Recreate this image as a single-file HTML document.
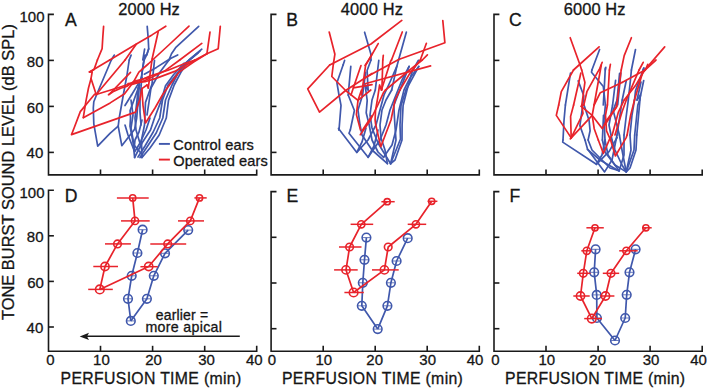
<!DOCTYPE html>
<html><head><meta charset="utf-8"><style>
html,body{margin:0;padding:0;background:#fff;}
svg{display:block;}
text{font-family:'Liberation Sans',sans-serif;fill:#151515;stroke:#151515;stroke-width:0.3px;}
</style></head><body>
<svg width="708" height="390" viewBox="0 0 708 390">
<rect width="708" height="390" fill="#fff"/>
<path d="M53.9,14.4H48.5V174.9H256.7V169.5" fill="none" stroke="#1a1a1a" stroke-width="1.6" stroke-linejoin="miter"/>
<path d="M48.5,60.4h5.4" stroke="#1a1a1a" stroke-width="1.6"/>
<path d="M48.5,106.4h5.4" stroke="#1a1a1a" stroke-width="1.6"/>
<path d="M48.5,152.4h5.4" stroke="#1a1a1a" stroke-width="1.6"/>
<path d="M100.5,174.9v-5.4" stroke="#1a1a1a" stroke-width="1.6"/>
<path d="M152.6,174.9v-5.4" stroke="#1a1a1a" stroke-width="1.6"/>
<path d="M204.7,174.9v-5.4" stroke="#1a1a1a" stroke-width="1.6"/>
<path d="M276.5,14.4H271.1V174.9H479.3V169.5" fill="none" stroke="#1a1a1a" stroke-width="1.6" stroke-linejoin="miter"/>
<path d="M271.1,60.4h5.4" stroke="#1a1a1a" stroke-width="1.6"/>
<path d="M271.1,106.4h5.4" stroke="#1a1a1a" stroke-width="1.6"/>
<path d="M271.1,152.4h5.4" stroke="#1a1a1a" stroke-width="1.6"/>
<path d="M323.2,174.9v-5.4" stroke="#1a1a1a" stroke-width="1.6"/>
<path d="M375.2,174.9v-5.4" stroke="#1a1a1a" stroke-width="1.6"/>
<path d="M427.2,174.9v-5.4" stroke="#1a1a1a" stroke-width="1.6"/>
<path d="M499.4,14.4H494.0V174.9H702.2V169.5" fill="none" stroke="#1a1a1a" stroke-width="1.6" stroke-linejoin="miter"/>
<path d="M494.0,60.4h5.4" stroke="#1a1a1a" stroke-width="1.6"/>
<path d="M494.0,106.4h5.4" stroke="#1a1a1a" stroke-width="1.6"/>
<path d="M494.0,152.4h5.4" stroke="#1a1a1a" stroke-width="1.6"/>
<path d="M546.0,174.9v-5.4" stroke="#1a1a1a" stroke-width="1.6"/>
<path d="M598.1,174.9v-5.4" stroke="#1a1a1a" stroke-width="1.6"/>
<path d="M650.1,174.9v-5.4" stroke="#1a1a1a" stroke-width="1.6"/>
<path d="M53.9,190.2H48.5V351.2H256.7V345.8" fill="none" stroke="#1a1a1a" stroke-width="1.6" stroke-linejoin="miter"/>
<path d="M48.5,235.8h5.4" stroke="#1a1a1a" stroke-width="1.6"/>
<path d="M48.5,281.4h5.4" stroke="#1a1a1a" stroke-width="1.6"/>
<path d="M48.5,327.0h5.4" stroke="#1a1a1a" stroke-width="1.6"/>
<path d="M100.5,351.2v-5.4" stroke="#1a1a1a" stroke-width="1.6"/>
<path d="M152.6,351.2v-5.4" stroke="#1a1a1a" stroke-width="1.6"/>
<path d="M204.7,351.2v-5.4" stroke="#1a1a1a" stroke-width="1.6"/>
<path d="M276.5,191.6H271.1V351.2H479.3V345.8" fill="none" stroke="#1a1a1a" stroke-width="1.6" stroke-linejoin="miter"/>
<path d="M271.1,237.3h5.4" stroke="#1a1a1a" stroke-width="1.6"/>
<path d="M271.1,283.0h5.4" stroke="#1a1a1a" stroke-width="1.6"/>
<path d="M271.1,328.7h5.4" stroke="#1a1a1a" stroke-width="1.6"/>
<path d="M323.2,351.2v-5.4" stroke="#1a1a1a" stroke-width="1.6"/>
<path d="M375.2,351.2v-5.4" stroke="#1a1a1a" stroke-width="1.6"/>
<path d="M427.2,351.2v-5.4" stroke="#1a1a1a" stroke-width="1.6"/>
<path d="M499.4,191.6H494.0V351.2H702.2V345.8" fill="none" stroke="#1a1a1a" stroke-width="1.6" stroke-linejoin="miter"/>
<path d="M494.0,237.3h5.4" stroke="#1a1a1a" stroke-width="1.6"/>
<path d="M494.0,283.0h5.4" stroke="#1a1a1a" stroke-width="1.6"/>
<path d="M494.0,328.7h5.4" stroke="#1a1a1a" stroke-width="1.6"/>
<path d="M546.0,351.2v-5.4" stroke="#1a1a1a" stroke-width="1.6"/>
<path d="M598.1,351.2v-5.4" stroke="#1a1a1a" stroke-width="1.6"/>
<path d="M650.1,351.2v-5.4" stroke="#1a1a1a" stroke-width="1.6"/>
<text x="19.48" y="21.9" font-size="15.0">100</text>
<text x="26.86" y="66.9" font-size="15.0">80</text>
<text x="26.86" y="112.7" font-size="15.0">60</text>
<text x="26.62" y="158.2" font-size="15.0">40</text>
<text x="19.48" y="197.7" font-size="15.0">100</text>
<text x="26.86" y="241.6" font-size="15.0">80</text>
<text x="27.18" y="287.6" font-size="15.0">60</text>
<text x="26.62" y="332.9" font-size="15.0">40</text>
<text x="46.30" y="365.4" font-size="15.0">0</text>
<text x="93.10" y="365.4" font-size="15.0">10</text>
<text x="145.18" y="365.4" font-size="15.0">20</text>
<text x="198.24" y="365.4" font-size="15.0">30</text>
<text x="246.00" y="365.4" font-size="15.0">40</text>
<text x="267.86" y="365.4" font-size="15.0">0</text>
<text x="315.42" y="365.4" font-size="15.0">10</text>
<text x="366.30" y="365.4" font-size="15.0">20</text>
<text x="419.36" y="365.4" font-size="15.0">30</text>
<text x="466.74" y="365.4" font-size="15.0">40</text>
<text x="491.24" y="365.4" font-size="15.0">0</text>
<text x="538.48" y="365.4" font-size="15.0">10</text>
<text x="589.36" y="365.4" font-size="15.0">20</text>
<text x="642.74" y="365.4" font-size="15.0">30</text>
<text x="690.18" y="365.4" font-size="15.0">40</text>
<text x="60.54" y="384.0" font-size="15.8" textLength="180.69" lengthAdjust="spacing">PERFUSION TIME (min)</text>
<text x="281.98" y="384.0" font-size="15.8" textLength="180.90" lengthAdjust="spacing">PERFUSION TIME (min)</text>
<text x="505.04" y="384.0" font-size="15.8" textLength="180.06" lengthAdjust="spacing">PERFUSION TIME (min)</text>
<text x="118.24" y="14.7" font-size="16.4" textLength="61.53" lengthAdjust="spacing">2000 Hz</text>
<text x="340.74" y="14.7" font-size="16.4" textLength="62.23" lengthAdjust="spacing">4000 Hz</text>
<text x="563.80" y="14.7" font-size="16.4" textLength="61.53" lengthAdjust="spacing">6000 Hz</text>
<text x="65.12" y="25.6" font-size="17.6">A</text>
<text x="286.16" y="25.8" font-size="17.6">B</text>
<text x="508.92" y="25.9" font-size="17.6">C</text>
<text x="64.66" y="201.5" font-size="17.6">D</text>
<text x="286.60" y="201.5" font-size="17.6">E</text>
<text x="509.54" y="201.8" font-size="17.6">F</text>
<text x="173.30" y="150.0" font-size="14.6" textLength="80.59" lengthAdjust="spacing">Control ears</text>
<text x="173.30" y="165.8" font-size="14.6" textLength="94.38" lengthAdjust="spacing">Operated ears</text>
<text x="155.80" y="320.0" font-size="14.0" textLength="52.32" lengthAdjust="spacing">earlier =</text>
<text x="145.48" y="331.7" font-size="14.2" textLength="76.42" lengthAdjust="spacing">more apical</text>
<text transform="translate(13.9,320.1) rotate(-90)" font-size="16.4" textLength="296" lengthAdjust="spacing">TONE BURST SOUND LEVEL (dB SPL)</text>
<path d="M158.9,143.9H169.9" stroke="#4058ac" stroke-width="1.9"/>
<path d="M158.9,159.6H169.9" stroke="#e8232b" stroke-width="1.9"/>
<path d="M239.8,336.3H86" stroke="#1a1a1a" stroke-width="1.6"/>
<path d="M79.7,336.4L89,332.8L87,336.4L89,340Z" fill="#1a1a1a"/>
<path d="M142.6,229.7L137.4,253.0L131.7,275.8L128.0,298.8L130.8,320.9" fill="none" stroke="#4058ac" stroke-width="1.7" stroke-linejoin="round"/>
<path d="M188.2,230.1L165.0,253.3L153.8,275.8L146.9,298.8L130.8,320.9" fill="none" stroke="#4058ac" stroke-width="1.7" stroke-linejoin="round"/>
<circle cx="142.6" cy="229.7" r="4.3" fill="none" stroke="#4058ac" stroke-width="1.6"/>
<path d="M138.8,229.7H146.4" stroke="#4058ac" stroke-width="1" opacity="0.8"/>
<circle cx="137.4" cy="253.0" r="4.3" fill="none" stroke="#4058ac" stroke-width="1.6"/>
<path d="M133.6,253.0H141.2" stroke="#4058ac" stroke-width="1" opacity="0.8"/>
<circle cx="131.7" cy="275.8" r="4.3" fill="none" stroke="#4058ac" stroke-width="1.6"/>
<path d="M127.9,275.8H135.5" stroke="#4058ac" stroke-width="1" opacity="0.8"/>
<circle cx="128.0" cy="298.8" r="4.3" fill="none" stroke="#4058ac" stroke-width="1.6"/>
<path d="M124.2,298.8H131.8" stroke="#4058ac" stroke-width="1" opacity="0.8"/>
<circle cx="130.8" cy="320.9" r="4.3" fill="none" stroke="#4058ac" stroke-width="1.6"/>
<path d="M127.0,320.9H134.6" stroke="#4058ac" stroke-width="1" opacity="0.8"/>
<circle cx="188.2" cy="230.1" r="4.3" fill="none" stroke="#4058ac" stroke-width="1.6"/>
<path d="M184.4,230.1H192.0" stroke="#4058ac" stroke-width="1" opacity="0.8"/>
<circle cx="165.0" cy="253.3" r="4.3" fill="none" stroke="#4058ac" stroke-width="1.6"/>
<path d="M161.2,253.3H168.8" stroke="#4058ac" stroke-width="1" opacity="0.8"/>
<circle cx="153.8" cy="275.8" r="4.3" fill="none" stroke="#4058ac" stroke-width="1.6"/>
<path d="M150.0,275.8H157.6" stroke="#4058ac" stroke-width="1" opacity="0.8"/>
<circle cx="146.9" cy="298.8" r="4.3" fill="none" stroke="#4058ac" stroke-width="1.6"/>
<path d="M143.1,298.8H150.7" stroke="#4058ac" stroke-width="1" opacity="0.8"/>
<path d="M132.7,197.9L135.0,220.9L117.5,243.9L105.0,266.5L99.8,289.4" fill="none" stroke="#e8232b" stroke-width="1.7" stroke-linejoin="round"/>
<path d="M199.5,197.9L190.3,220.9L167.7,243.9L148.7,266.5L99.8,289.4" fill="none" stroke="#e8232b" stroke-width="1.7" stroke-linejoin="round"/>
<path d="M116.9,197.9H148.7" stroke="#e8232b" stroke-width="1.5"/>
<path d="M121.0,220.9H149.7" stroke="#e8232b" stroke-width="1.5"/>
<path d="M105.0,243.9H130.9" stroke="#e8232b" stroke-width="1.5"/>
<path d="M93.3,266.5H118.0" stroke="#e8232b" stroke-width="1.5"/>
<path d="M88.2,289.4H112.8" stroke="#e8232b" stroke-width="1.5"/>
<path d="M194.4,197.9H206.7" stroke="#e8232b" stroke-width="1.5"/>
<path d="M178.0,220.9H204.0" stroke="#e8232b" stroke-width="1.5"/>
<path d="M150.3,243.9H186.2" stroke="#e8232b" stroke-width="1.5"/>
<path d="M140.4,266.7H157.8" stroke="#e8232b" stroke-width="1.5"/>
<circle cx="132.7" cy="197.9" r="3.1" fill="none" stroke="#e8232b" stroke-width="1.6"/>
<circle cx="135.0" cy="220.9" r="3.6" fill="none" stroke="#e8232b" stroke-width="1.6"/>
<circle cx="117.5" cy="243.9" r="3.8" fill="none" stroke="#e8232b" stroke-width="1.6"/>
<circle cx="105.0" cy="266.5" r="4.1" fill="none" stroke="#e8232b" stroke-width="1.6"/>
<circle cx="99.8" cy="289.4" r="4.3" fill="none" stroke="#e8232b" stroke-width="1.6"/>
<circle cx="199.5" cy="197.9" r="3.1" fill="none" stroke="#e8232b" stroke-width="1.6"/>
<circle cx="190.3" cy="220.9" r="3.6" fill="none" stroke="#e8232b" stroke-width="1.6"/>
<circle cx="167.7" cy="243.9" r="3.8" fill="none" stroke="#e8232b" stroke-width="1.6"/>
<circle cx="148.7" cy="266.5" r="4.1" fill="none" stroke="#e8232b" stroke-width="1.6"/>
<path d="M366.4,237.6L364.5,259.8L362.8,282.8L361.8,305.8L377.7,329.1" fill="none" stroke="#4058ac" stroke-width="1.7" stroke-linejoin="round"/>
<path d="M407.7,238.2L396.6,261.0L390.9,282.8L387.4,305.8L377.7,329.1" fill="none" stroke="#4058ac" stroke-width="1.7" stroke-linejoin="round"/>
<circle cx="366.4" cy="237.6" r="4.3" fill="none" stroke="#4058ac" stroke-width="1.6"/>
<path d="M362.6,237.6H370.2" stroke="#4058ac" stroke-width="1" opacity="0.8"/>
<circle cx="364.5" cy="259.8" r="4.3" fill="none" stroke="#4058ac" stroke-width="1.6"/>
<path d="M360.7,259.8H368.3" stroke="#4058ac" stroke-width="1" opacity="0.8"/>
<circle cx="362.8" cy="282.8" r="4.3" fill="none" stroke="#4058ac" stroke-width="1.6"/>
<path d="M359.0,282.8H366.6" stroke="#4058ac" stroke-width="1" opacity="0.8"/>
<circle cx="361.8" cy="305.8" r="4.3" fill="none" stroke="#4058ac" stroke-width="1.6"/>
<path d="M358.0,305.8H365.6" stroke="#4058ac" stroke-width="1" opacity="0.8"/>
<circle cx="377.7" cy="329.1" r="4.3" fill="none" stroke="#4058ac" stroke-width="1.6"/>
<path d="M373.9,329.1H381.5" stroke="#4058ac" stroke-width="1" opacity="0.8"/>
<circle cx="407.7" cy="238.2" r="4.3" fill="none" stroke="#4058ac" stroke-width="1.6"/>
<path d="M403.9,238.2H411.5" stroke="#4058ac" stroke-width="1" opacity="0.8"/>
<circle cx="396.6" cy="261.0" r="4.3" fill="none" stroke="#4058ac" stroke-width="1.6"/>
<path d="M392.8,261.0H400.4" stroke="#4058ac" stroke-width="1" opacity="0.8"/>
<circle cx="390.9" cy="282.8" r="4.3" fill="none" stroke="#4058ac" stroke-width="1.6"/>
<path d="M387.1,282.8H394.7" stroke="#4058ac" stroke-width="1" opacity="0.8"/>
<circle cx="387.4" cy="305.8" r="4.3" fill="none" stroke="#4058ac" stroke-width="1.6"/>
<path d="M383.6,305.8H391.2" stroke="#4058ac" stroke-width="1" opacity="0.8"/>
<path d="M387.2,201.7L361.3,224.3L349.6,247.0L346.0,269.9L353.6,292.5" fill="none" stroke="#e8232b" stroke-width="1.7" stroke-linejoin="round"/>
<path d="M431.7,201.3L415.9,224.3L388.2,247.0L384.4,269.9L353.6,292.5" fill="none" stroke="#e8232b" stroke-width="1.7" stroke-linejoin="round"/>
<path d="M381.4,201.7H394.7" stroke="#e8232b" stroke-width="1.5"/>
<path d="M350.6,224.3H373.2" stroke="#e8232b" stroke-width="1.5"/>
<path d="M339.0,247.0H361.5" stroke="#e8232b" stroke-width="1.5"/>
<path d="M334.1,269.9H357.7" stroke="#e8232b" stroke-width="1.5"/>
<path d="M344.4,292.5H363.8" stroke="#e8232b" stroke-width="1.5"/>
<path d="M427.6,201.3H437.4" stroke="#e8232b" stroke-width="1.5"/>
<path d="M407.7,224.3H426.2" stroke="#e8232b" stroke-width="1.5"/>
<path d="M372.0,269.9H398.7" stroke="#e8232b" stroke-width="1.5"/>
<circle cx="387.2" cy="201.7" r="3.1" fill="none" stroke="#e8232b" stroke-width="1.6"/>
<circle cx="361.3" cy="224.3" r="3.6" fill="none" stroke="#e8232b" stroke-width="1.6"/>
<circle cx="349.6" cy="247.0" r="3.8" fill="none" stroke="#e8232b" stroke-width="1.6"/>
<circle cx="346.0" cy="269.9" r="4.1" fill="none" stroke="#e8232b" stroke-width="1.6"/>
<circle cx="353.6" cy="292.5" r="4.3" fill="none" stroke="#e8232b" stroke-width="1.6"/>
<circle cx="431.7" cy="201.3" r="3.1" fill="none" stroke="#e8232b" stroke-width="1.6"/>
<circle cx="415.9" cy="224.3" r="3.6" fill="none" stroke="#e8232b" stroke-width="1.6"/>
<circle cx="388.2" cy="247.0" r="3.8" fill="none" stroke="#e8232b" stroke-width="1.6"/>
<circle cx="384.4" cy="269.9" r="4.1" fill="none" stroke="#e8232b" stroke-width="1.6"/>
<path d="M595.6,249.3L594.2,272.3L596.7,294.9L596.9,318.0L615.0,340.5" fill="none" stroke="#4058ac" stroke-width="1.7" stroke-linejoin="round"/>
<path d="M635.6,249.3L629.5,272.3L626.7,294.8L625.2,318.0L615.0,340.5" fill="none" stroke="#4058ac" stroke-width="1.7" stroke-linejoin="round"/>
<circle cx="595.6" cy="249.3" r="4.3" fill="none" stroke="#4058ac" stroke-width="1.6"/>
<path d="M591.8,249.3H599.4" stroke="#4058ac" stroke-width="1" opacity="0.8"/>
<circle cx="594.2" cy="272.3" r="4.3" fill="none" stroke="#4058ac" stroke-width="1.6"/>
<path d="M590.4,272.3H598.0" stroke="#4058ac" stroke-width="1" opacity="0.8"/>
<circle cx="596.7" cy="294.9" r="4.3" fill="none" stroke="#4058ac" stroke-width="1.6"/>
<path d="M592.9,294.9H600.5" stroke="#4058ac" stroke-width="1" opacity="0.8"/>
<circle cx="596.9" cy="318.0" r="4.3" fill="none" stroke="#4058ac" stroke-width="1.6"/>
<path d="M593.1,318.0H600.7" stroke="#4058ac" stroke-width="1" opacity="0.8"/>
<circle cx="615.0" cy="340.5" r="4.3" fill="none" stroke="#4058ac" stroke-width="1.6"/>
<path d="M611.2,340.5H618.8" stroke="#4058ac" stroke-width="1" opacity="0.8"/>
<circle cx="635.6" cy="249.3" r="4.3" fill="none" stroke="#4058ac" stroke-width="1.6"/>
<path d="M631.8,249.3H639.4" stroke="#4058ac" stroke-width="1" opacity="0.8"/>
<circle cx="629.5" cy="272.3" r="4.3" fill="none" stroke="#4058ac" stroke-width="1.6"/>
<path d="M625.7,272.3H633.3" stroke="#4058ac" stroke-width="1" opacity="0.8"/>
<circle cx="626.7" cy="294.8" r="4.3" fill="none" stroke="#4058ac" stroke-width="1.6"/>
<path d="M622.9,294.8H630.5" stroke="#4058ac" stroke-width="1" opacity="0.8"/>
<circle cx="625.2" cy="318.0" r="4.3" fill="none" stroke="#4058ac" stroke-width="1.6"/>
<path d="M621.4,318.0H629.0" stroke="#4058ac" stroke-width="1" opacity="0.8"/>
<path d="M595.0,227.8L586.8,250.8L583.3,273.3L580.5,296.0L591.8,318.6" fill="none" stroke="#e8232b" stroke-width="1.7" stroke-linejoin="round"/>
<path d="M645.9,227.8L626.4,250.8L611.0,273.3L605.5,296.0L591.8,318.6" fill="none" stroke="#e8232b" stroke-width="1.7" stroke-linejoin="round"/>
<path d="M586.4,227.8H603.8" stroke="#e8232b" stroke-width="1.5"/>
<path d="M581.3,250.8H591.5" stroke="#e8232b" stroke-width="1.5"/>
<path d="M577.2,273.3H590.5" stroke="#e8232b" stroke-width="1.5"/>
<path d="M573.3,296.0H589.7" stroke="#e8232b" stroke-width="1.5"/>
<path d="M584.2,318.6H602.0" stroke="#e8232b" stroke-width="1.5"/>
<path d="M619.2,250.8H637.7" stroke="#e8232b" stroke-width="1.5"/>
<path d="M602.8,273.3H619.2" stroke="#e8232b" stroke-width="1.5"/>
<path d="M600.0,296.0H614.4" stroke="#e8232b" stroke-width="1.5"/>
<path d="M642.0,227.8H651.7" stroke="#e8232b" stroke-width="1.5"/>
<circle cx="595.0" cy="227.8" r="3.1" fill="none" stroke="#e8232b" stroke-width="1.6"/>
<circle cx="586.8" cy="250.8" r="3.6" fill="none" stroke="#e8232b" stroke-width="1.6"/>
<circle cx="583.3" cy="273.3" r="3.8" fill="none" stroke="#e8232b" stroke-width="1.6"/>
<circle cx="580.5" cy="296.0" r="4.1" fill="none" stroke="#e8232b" stroke-width="1.6"/>
<circle cx="591.8" cy="318.6" r="4.3" fill="none" stroke="#e8232b" stroke-width="1.6"/>
<circle cx="645.9" cy="227.8" r="3.1" fill="none" stroke="#e8232b" stroke-width="1.6"/>
<circle cx="626.4" cy="250.8" r="3.6" fill="none" stroke="#e8232b" stroke-width="1.6"/>
<circle cx="611.0" cy="273.3" r="3.8" fill="none" stroke="#e8232b" stroke-width="1.6"/>
<circle cx="605.5" cy="296.0" r="4.1" fill="none" stroke="#e8232b" stroke-width="1.6"/>
<path d="M147.2,26.4L148.2,38.5L148.7,48.7L146.7,54.9L144.1,60.0" fill="none" stroke="#4058ac" stroke-width="1.7" stroke-linejoin="round" stroke-linecap="round"/>
<path d="M144.6,49.2L142.8,60.0" fill="none" stroke="#4058ac" stroke-width="1.7" stroke-linejoin="round" stroke-linecap="round"/>
<path d="M114.2,55.1L111.3,60.0" fill="none" stroke="#4058ac" stroke-width="1.7" stroke-linejoin="round" stroke-linecap="round"/>
<path d="M131.1,55.1L129.2,60.0" fill="none" stroke="#4058ac" stroke-width="1.7" stroke-linejoin="round" stroke-linecap="round"/>
<path d="M198.7,26.4L175.6,47.7L171.5,53.8L169.0,60.0" fill="none" stroke="#4058ac" stroke-width="1.7" stroke-linejoin="round" stroke-linecap="round"/>
<path d="M177.7,54.9L170.5,58.5" fill="none" stroke="#4058ac" stroke-width="1.7" stroke-linejoin="round" stroke-linecap="round"/>
<path d="M111.3,60.0L96.7,94.5" fill="none" stroke="#4058ac" stroke-width="1.7" stroke-linejoin="round" stroke-linecap="round"/>
<path d="M129.2,60.0L126.9,75.5L123.3,95.0" fill="none" stroke="#4058ac" stroke-width="1.7" stroke-linejoin="round" stroke-linecap="round"/>
<path d="M142.0,77.6L131.5,95.0" fill="none" stroke="#4058ac" stroke-width="1.7" stroke-linejoin="round" stroke-linecap="round"/>
<path d="M148.7,48.7L146.7,54.9L144.7,55.3L142.2,70.6L141.2,85.0" fill="none" stroke="#4058ac" stroke-width="1.7" stroke-linejoin="round" stroke-linecap="round"/>
<path d="M144.1,60.0L141.6,75.6L138.2,88.0" fill="none" stroke="#4058ac" stroke-width="1.7" stroke-linejoin="round" stroke-linecap="round"/>
<path d="M170.5,58.5L156.5,67.4L144.3,74.2" fill="none" stroke="#4058ac" stroke-width="1.7" stroke-linejoin="round" stroke-linecap="round"/>
<path d="M169.0,60.0L159.9,72.2L151.0,88.0" fill="none" stroke="#4058ac" stroke-width="1.7" stroke-linejoin="round" stroke-linecap="round"/>
<path d="M154.5,60.4L151.9,85.0" fill="none" stroke="#4058ac" stroke-width="1.7" stroke-linejoin="round" stroke-linecap="round"/>
<path d="M96.7,94.5L93.8,101.8L93.3,108.0L93.8,123.8L97.7,146.2L110.0,133.4L118.2,126.2L119.2,118.0L121.0,108.0L123.3,95.0" fill="none" stroke="#4058ac" stroke-width="1.7" stroke-linejoin="round" stroke-linecap="round"/>
<path d="M118.2,126.2L121.8,145.7L134.6,129.3L136.7,118.0L139.4,85.0" fill="none" stroke="#4058ac" stroke-width="1.7" stroke-linejoin="round" stroke-linecap="round"/>
<path d="M131.5,95.0L125.0,105.5" fill="none" stroke="#4058ac" stroke-width="1.7" stroke-linejoin="round" stroke-linecap="round"/>
<path d="M139.4,85.0L130.1,110.6L130.5,118.0L130.0,126.2L133.1,142.6L134.6,157.5" fill="none" stroke="#4058ac" stroke-width="1.7" stroke-linejoin="round" stroke-linecap="round"/>
<path d="M201.8,49.2L189.0,60.0L180.9,72.4L174.2,85.0L168.5,100.4L166.3,118.0L159.2,135.0L150.0,148.0L142.0,157.5" fill="none" stroke="#4058ac" stroke-width="1.7" stroke-linejoin="round" stroke-linecap="round"/>
<path d="M200.0,51.0L187.0,62.0L178.0,73.0L172.0,85.0L165.5,100.0L162.8,118.0L156.2,133.0L147.0,147.0L140.0,157.5" fill="none" stroke="#4058ac" stroke-width="1.7" stroke-linejoin="round" stroke-linecap="round"/>
<path d="M198.0,53.0L185.0,63.5L176.0,75.0L168.1,85.0L162.5,100.0L159.7,118.0L153.2,132.0L145.0,146.0L138.0,157.0" fill="none" stroke="#4058ac" stroke-width="1.7" stroke-linejoin="round" stroke-linecap="round"/>
<path d="M184.0,63.2L173.7,74.5L165.5,85.8L161.3,100.4L154.5,118.0L150.5,130.0L142.0,143.0L134.6,157.5" fill="none" stroke="#4058ac" stroke-width="1.7" stroke-linejoin="round" stroke-linecap="round"/>
<path d="M151.7,85.0L145.5,102.4L144.5,125.0L141.5,140.0L141.8,157.5" fill="none" stroke="#4058ac" stroke-width="1.7" stroke-linejoin="round" stroke-linecap="round"/>
<path d="M138.2,88.0L137.0,100.0L135.0,118.0L136.0,130.0L139.0,140.0L142.0,150.0" fill="none" stroke="#4058ac" stroke-width="1.7" stroke-linejoin="round" stroke-linecap="round"/>
<path d="M141.2,85.0L140.0,100.0L140.0,112.0L141.0,125.0" fill="none" stroke="#4058ac" stroke-width="1.7" stroke-linejoin="round" stroke-linecap="round"/>
<path d="M151.0,88.0L149.0,102.0L147.0,115.0" fill="none" stroke="#4058ac" stroke-width="1.7" stroke-linejoin="round" stroke-linecap="round"/>
<path d="M131.0,100.0L133.0,115.0L131.0,128.0L134.0,145.0L143.0,155.5" fill="none" stroke="#4058ac" stroke-width="1.7" stroke-linejoin="round" stroke-linecap="round"/>
<path d="M125.0,125.0L128.0,135.0L134.7,151.7L140.0,143.0L146.0,130.0L150.0,118.0" fill="none" stroke="#4058ac" stroke-width="1.7" stroke-linejoin="round" stroke-linecap="round"/>
<path d="M142.0,120.0L139.0,132.0L135.0,140.0L134.0,150.0" fill="none" stroke="#4058ac" stroke-width="1.7" stroke-linejoin="round" stroke-linecap="round"/>
<path d="M364.6,32.2L370.8,53.7L371.0,60.0" fill="none" stroke="#4058ac" stroke-width="1.7" stroke-linejoin="round" stroke-linecap="round"/>
<path d="M344.6,60.4L343.1,65.0" fill="none" stroke="#4058ac" stroke-width="1.7" stroke-linejoin="round" stroke-linecap="round"/>
<path d="M406.4,32.0L398.7,59.5" fill="none" stroke="#4058ac" stroke-width="1.7" stroke-linejoin="round" stroke-linecap="round"/>
<path d="M343.1,65.0L336.9,82.7L339.0,95.0" fill="none" stroke="#4058ac" stroke-width="1.7" stroke-linejoin="round" stroke-linecap="round"/>
<path d="M350.8,66.3L348.2,95.0" fill="none" stroke="#4058ac" stroke-width="1.7" stroke-linejoin="round" stroke-linecap="round"/>
<path d="M365.6,72.4L362.6,95.0" fill="none" stroke="#4058ac" stroke-width="1.7" stroke-linejoin="round" stroke-linecap="round"/>
<path d="M398.7,59.5L396.8,66.4L391.7,90.0" fill="none" stroke="#4058ac" stroke-width="1.7" stroke-linejoin="round" stroke-linecap="round"/>
<path d="M378.8,60.3L375.3,90.0" fill="none" stroke="#4058ac" stroke-width="1.7" stroke-linejoin="round" stroke-linecap="round"/>
<path d="M371.0,60.0L367.1,70.5L368.1,90.0" fill="none" stroke="#4058ac" stroke-width="1.7" stroke-linejoin="round" stroke-linecap="round"/>
<path d="M409.1,66.4L399.9,90.0" fill="none" stroke="#4058ac" stroke-width="1.7" stroke-linejoin="round" stroke-linecap="round"/>
<path d="M418.8,66.4L406.0,90.0" fill="none" stroke="#4058ac" stroke-width="1.7" stroke-linejoin="round" stroke-linecap="round"/>
<path d="M418.3,60.3L412.0,72.0" fill="none" stroke="#4058ac" stroke-width="1.7" stroke-linejoin="round" stroke-linecap="round"/>
<path d="M339.0,95.0L341.0,105.4L339.0,130.0" fill="none" stroke="#4058ac" stroke-width="1.7" stroke-linejoin="round" stroke-linecap="round"/>
<path d="M348.2,95.0L354.4,110.5L350.3,130.0" fill="none" stroke="#4058ac" stroke-width="1.7" stroke-linejoin="round" stroke-linecap="round"/>
<path d="M368.1,90.0L365.1,85.0L367.2,100.4L366.2,112.7L369.2,125.0L372.0,140.0L378.0,152.0L383.6,157.3" fill="none" stroke="#4058ac" stroke-width="1.7" stroke-linejoin="round" stroke-linecap="round"/>
<path d="M339.0,130.0L338.5,128.4L356.8,152.4L362.0,142.0L366.0,128.0" fill="none" stroke="#4058ac" stroke-width="1.7" stroke-linejoin="round" stroke-linecap="round"/>
<path d="M350.3,130.0L349.0,133.3L368.1,157.3L374.0,146.0L378.0,130.0" fill="none" stroke="#4058ac" stroke-width="1.7" stroke-linejoin="round" stroke-linecap="round"/>
<path d="M362.6,95.0L358.0,110.0L360.0,125.0L362.0,135.0L372.0,150.0L387.4,163.7" fill="none" stroke="#4058ac" stroke-width="1.7" stroke-linejoin="round" stroke-linecap="round"/>
<path d="M375.3,90.0L372.0,100.0L370.0,115.0L372.0,128.0L378.0,143.0L390.6,163.7" fill="none" stroke="#4058ac" stroke-width="1.7" stroke-linejoin="round" stroke-linecap="round"/>
<path d="M391.7,90.0L386.0,100.0L382.0,110.0L380.0,125.0L381.0,138.0L385.0,150.0L387.4,163.7" fill="none" stroke="#4058ac" stroke-width="1.7" stroke-linejoin="round" stroke-linecap="round"/>
<path d="M399.9,90.0L393.8,105.5L394.9,125.0L396.0,140.0L390.6,163.7" fill="none" stroke="#4058ac" stroke-width="1.7" stroke-linejoin="round" stroke-linecap="round"/>
<path d="M406.0,90.0L401.0,105.5L400.0,125.0L400.5,139.0L390.6,163.7" fill="none" stroke="#4058ac" stroke-width="1.7" stroke-linejoin="round" stroke-linecap="round"/>
<path d="M412.0,72.0L407.0,90.0L403.1,105.5L402.1,125.0L402.0,140.0L395.0,160.0L390.6,163.7" fill="none" stroke="#4058ac" stroke-width="1.7" stroke-linejoin="round" stroke-linecap="round"/>
<path d="M356.8,152.4L368.0,140.0L376.0,125.0L380.0,110.0L384.0,95.0L390.0,82.0L396.8,66.4" fill="none" stroke="#4058ac" stroke-width="1.7" stroke-linejoin="round" stroke-linecap="round"/>
<path d="M368.1,157.3L380.0,140.0L386.0,125.0L390.0,110.0L396.0,95.0L402.0,80.0L409.1,66.4" fill="none" stroke="#4058ac" stroke-width="1.7" stroke-linejoin="round" stroke-linecap="round"/>
<path d="M383.6,157.3L392.0,145.0L396.0,130.0L399.0,110.0L404.0,90.0L410.0,78.0L418.8,66.4" fill="none" stroke="#4058ac" stroke-width="1.7" stroke-linejoin="round" stroke-linecap="round"/>
<path d="M599.6,49.5L591.9,70.0" fill="none" stroke="#4058ac" stroke-width="1.7" stroke-linejoin="round" stroke-linecap="round"/>
<path d="M605.8,67.4L605.3,70.0" fill="none" stroke="#4058ac" stroke-width="1.7" stroke-linejoin="round" stroke-linecap="round"/>
<path d="M635.5,49.5L631.4,70.0" fill="none" stroke="#4058ac" stroke-width="1.7" stroke-linejoin="round" stroke-linecap="round"/>
<path d="M644.0,68.0L643.0,70.0" fill="none" stroke="#4058ac" stroke-width="1.7" stroke-linejoin="round" stroke-linecap="round"/>
<path d="M570.5,73.2L565.4,105.0" fill="none" stroke="#4058ac" stroke-width="1.7" stroke-linejoin="round" stroke-linecap="round"/>
<path d="M578.2,80.9L583.8,95.8L582.8,105.0" fill="none" stroke="#4058ac" stroke-width="1.7" stroke-linejoin="round" stroke-linecap="round"/>
<path d="M591.9,70.0L591.5,72.2L603.3,86.5L605.4,105.0" fill="none" stroke="#4058ac" stroke-width="1.7" stroke-linejoin="round" stroke-linecap="round"/>
<path d="M605.3,68.1L604.4,85.5L603.3,105.0" fill="none" stroke="#4058ac" stroke-width="1.7" stroke-linejoin="round" stroke-linecap="round"/>
<path d="M615.6,80.4L612.6,105.0" fill="none" stroke="#4058ac" stroke-width="1.7" stroke-linejoin="round" stroke-linecap="round"/>
<path d="M620.8,73.2L617.7,105.0" fill="none" stroke="#4058ac" stroke-width="1.7" stroke-linejoin="round" stroke-linecap="round"/>
<path d="M631.4,70.0L630.4,80.5L628.3,100.0" fill="none" stroke="#4058ac" stroke-width="1.7" stroke-linejoin="round" stroke-linecap="round"/>
<path d="M619.6,73.3L617.0,100.0" fill="none" stroke="#4058ac" stroke-width="1.7" stroke-linejoin="round" stroke-linecap="round"/>
<path d="M626.3,80.5L622.2,100.0" fill="none" stroke="#4058ac" stroke-width="1.7" stroke-linejoin="round" stroke-linecap="round"/>
<path d="M643.7,68.2L635.5,90.8L634.5,100.0" fill="none" stroke="#4058ac" stroke-width="1.7" stroke-linejoin="round" stroke-linecap="round"/>
<path d="M643.7,80.5L639.6,100.0" fill="none" stroke="#4058ac" stroke-width="1.7" stroke-linejoin="round" stroke-linecap="round"/>
<path d="M641.0,82.0L637.0,100.0" fill="none" stroke="#4058ac" stroke-width="1.7" stroke-linejoin="round" stroke-linecap="round"/>
<path d="M565.4,105.0L564.0,120.5L563.0,140.0" fill="none" stroke="#4058ac" stroke-width="1.7" stroke-linejoin="round" stroke-linecap="round"/>
<path d="M582.8,105.0L579.9,125.6L585.0,140.0" fill="none" stroke="#4058ac" stroke-width="1.7" stroke-linejoin="round" stroke-linecap="round"/>
<path d="M584.0,105.1L589.1,120.5L590.1,130.8L588.1,140.0" fill="none" stroke="#4058ac" stroke-width="1.7" stroke-linejoin="round" stroke-linecap="round"/>
<path d="M603.5,115.4L602.4,140.0" fill="none" stroke="#4058ac" stroke-width="1.7" stroke-linejoin="round" stroke-linecap="round"/>
<path d="M605.4,105.0L604.0,120.0L605.0,140.0" fill="none" stroke="#4058ac" stroke-width="1.7" stroke-linejoin="round" stroke-linecap="round"/>
<path d="M612.6,105.0L609.0,125.0L612.0,140.0" fill="none" stroke="#4058ac" stroke-width="1.7" stroke-linejoin="round" stroke-linecap="round"/>
<path d="M617.0,100.0L613.2,110.4L619.4,135.0" fill="none" stroke="#4058ac" stroke-width="1.7" stroke-linejoin="round" stroke-linecap="round"/>
<path d="M622.2,100.0L620.0,115.0L617.0,135.0" fill="none" stroke="#4058ac" stroke-width="1.7" stroke-linejoin="round" stroke-linecap="round"/>
<path d="M628.3,100.0L626.0,118.0L624.0,135.0" fill="none" stroke="#4058ac" stroke-width="1.7" stroke-linejoin="round" stroke-linecap="round"/>
<path d="M634.5,100.0L632.0,115.0L630.0,135.0" fill="none" stroke="#4058ac" stroke-width="1.7" stroke-linejoin="round" stroke-linecap="round"/>
<path d="M639.6,100.0L637.8,105.3L634.7,135.0" fill="none" stroke="#4058ac" stroke-width="1.7" stroke-linejoin="round" stroke-linecap="round"/>
<path d="M637.0,100.0L640.4,95.0" fill="none" stroke="#4058ac" stroke-width="1.7" stroke-linejoin="round" stroke-linecap="round"/>
<path d="M640.4,95.0L636.8,135.0" fill="none" stroke="#4058ac" stroke-width="1.7" stroke-linejoin="round" stroke-linecap="round"/>
<path d="M563.0,140.0L562.7,142.1L596.4,164.3L602.0,155.0L605.0,140.0" fill="none" stroke="#4058ac" stroke-width="1.7" stroke-linejoin="round" stroke-linecap="round"/>
<path d="M585.0,140.0L587.5,149.1L604.6,171.9L612.0,160.0L617.0,135.0" fill="none" stroke="#4058ac" stroke-width="1.7" stroke-linejoin="round" stroke-linecap="round"/>
<path d="M588.1,140.0L592.0,150.0L610.0,168.0L619.2,170.7L624.0,155.0L624.0,135.0" fill="none" stroke="#4058ac" stroke-width="1.7" stroke-linejoin="round" stroke-linecap="round"/>
<path d="M602.4,140.0L605.0,152.0L619.2,170.7" fill="none" stroke="#4058ac" stroke-width="1.7" stroke-linejoin="round" stroke-linecap="round"/>
<path d="M605.0,140.0L608.0,155.0L615.0,165.0L626.2,171.9L631.0,150.0L630.0,135.0" fill="none" stroke="#4058ac" stroke-width="1.7" stroke-linejoin="round" stroke-linecap="round"/>
<path d="M612.0,140.0L615.0,150.0L622.0,165.0L626.2,171.9" fill="none" stroke="#4058ac" stroke-width="1.7" stroke-linejoin="round" stroke-linecap="round"/>
<path d="M619.4,135.0L622.0,150.0L626.2,171.9L634.0,150.0L634.7,135.0" fill="none" stroke="#4058ac" stroke-width="1.7" stroke-linejoin="round" stroke-linecap="round"/>
<path d="M636.8,135.0L636.0,150.0L630.0,168.0L626.2,171.9" fill="none" stroke="#4058ac" stroke-width="1.7" stroke-linejoin="round" stroke-linecap="round"/>
<path d="M587.4,149.4L600.0,160.0L619.0,171.1" fill="none" stroke="#4058ac" stroke-width="1.7" stroke-linejoin="round" stroke-linecap="round"/>
<path d="M596.4,164.3L609.2,151.4L617.1,137.5" fill="none" stroke="#4058ac" stroke-width="1.7" stroke-linejoin="round" stroke-linecap="round"/>
<path d="M103.6,26.4L102.8,37.4L102.1,48.7L97.4,60.0" fill="none" stroke="#e8232b" stroke-width="1.7" stroke-linejoin="round" stroke-linecap="round"/>
<path d="M165.8,26.2L152.0,34.9L136.4,44.1L109.7,60.0" fill="none" stroke="#e8232b" stroke-width="1.7" stroke-linejoin="round" stroke-linecap="round"/>
<path d="M136.4,44.1L125.1,60.0" fill="none" stroke="#e8232b" stroke-width="1.7" stroke-linejoin="round" stroke-linecap="round"/>
<path d="M158.2,31.8L152.1,59.0" fill="none" stroke="#e8232b" stroke-width="1.7" stroke-linejoin="round" stroke-linecap="round"/>
<path d="M189.0,26.2L168.8,45.0L148.2,64.0L138.9,72.2L133.8,81.4L124.6,93.7L110.2,102.9L83.3,117.7" fill="none" stroke="#e8232b" stroke-width="1.7" stroke-linejoin="round" stroke-linecap="round"/>
<path d="M201.8,43.4L179.7,60.0" fill="none" stroke="#e8232b" stroke-width="1.7" stroke-linejoin="round" stroke-linecap="round"/>
<path d="M210.0,32.1L206.9,53.8" fill="none" stroke="#e8232b" stroke-width="1.7" stroke-linejoin="round" stroke-linecap="round"/>
<path d="M220.3,26.4L218.2,48.7L206.9,53.8L195.1,60.0" fill="none" stroke="#e8232b" stroke-width="1.7" stroke-linejoin="round" stroke-linecap="round"/>
<path d="M97.4,60.0L94.1,69.4L89.5,71.9" fill="none" stroke="#e8232b" stroke-width="1.7" stroke-linejoin="round" stroke-linecap="round"/>
<path d="M109.7,60.0L89.5,71.9" fill="none" stroke="#e8232b" stroke-width="1.7" stroke-linejoin="round" stroke-linecap="round"/>
<path d="M89.5,71.9L92.2,71.9L91.0,78.6L96.2,94.5" fill="none" stroke="#e8232b" stroke-width="1.7" stroke-linejoin="round" stroke-linecap="round"/>
<path d="M91.0,78.6L88.5,88.0L85.9,101.3L83.3,117.7" fill="none" stroke="#e8232b" stroke-width="1.7" stroke-linejoin="round" stroke-linecap="round"/>
<path d="M125.1,60.0L96.2,94.5" fill="none" stroke="#e8232b" stroke-width="1.7" stroke-linejoin="round" stroke-linecap="round"/>
<path d="M130.5,72.4L109.0,94.5" fill="none" stroke="#e8232b" stroke-width="1.7" stroke-linejoin="round" stroke-linecap="round"/>
<path d="M96.2,94.5L118.0,87.7L138.5,81.0L150.0,76.0L168.0,70.3L186.0,63.0L195.1,60.0" fill="none" stroke="#e8232b" stroke-width="1.7" stroke-linejoin="round" stroke-linecap="round"/>
<path d="M108.5,94.7L114.1,91.1L121.3,88.0L126.6,86.5L133.8,81.4L150.0,77.3" fill="none" stroke="#e8232b" stroke-width="1.7" stroke-linejoin="round" stroke-linecap="round"/>
<path d="M152.1,59.0L150.4,71.7L148.3,88.0" fill="none" stroke="#e8232b" stroke-width="1.7" stroke-linejoin="round" stroke-linecap="round"/>
<path d="M179.7,60.0L165.5,70.4L145.0,80.6L132.0,84.5" fill="none" stroke="#e8232b" stroke-width="1.7" stroke-linejoin="round" stroke-linecap="round"/>
<path d="M195.1,60.0L191.2,62.2L174.7,71.4L155.3,78.6L145.0,81.7L128.0,83.7" fill="none" stroke="#e8232b" stroke-width="1.7" stroke-linejoin="round" stroke-linecap="round"/>
<path d="M96.2,94.5L94.6,94.2L80.3,111.6L74.1,128.0L71.5,134.6L135.6,112.1L140.0,99.2L141.9,88.6L147.0,85.0" fill="none" stroke="#e8232b" stroke-width="1.7" stroke-linejoin="round" stroke-linecap="round"/>
<path d="M141.9,88.6L143.0,105.5L145.5,123.0L155.0,108.0L162.4,95.0L169.6,84.7L178.8,72.4L193.2,62.2L206.9,53.8" fill="none" stroke="#e8232b" stroke-width="1.7" stroke-linejoin="round" stroke-linecap="round"/>
<path d="M148.3,88.0L147.0,85.0" fill="none" stroke="#e8232b" stroke-width="1.7" stroke-linejoin="round" stroke-linecap="round"/>
<path d="M329.2,32.0L334.9,54.2L333.3,64.5" fill="none" stroke="#e8232b" stroke-width="1.7" stroke-linejoin="round" stroke-linecap="round"/>
<path d="M401.8,20.4L371.0,44.0L329.7,65.0" fill="none" stroke="#e8232b" stroke-width="1.7" stroke-linejoin="round" stroke-linecap="round"/>
<path d="M372.0,54.2L365.6,65.3L361.5,95.0" fill="none" stroke="#e8232b" stroke-width="1.7" stroke-linejoin="round" stroke-linecap="round"/>
<path d="M378.2,43.6L370.0,58.0" fill="none" stroke="#e8232b" stroke-width="1.7" stroke-linejoin="round" stroke-linecap="round"/>
<path d="M402.3,32.0L391.5,60.0" fill="none" stroke="#e8232b" stroke-width="1.7" stroke-linejoin="round" stroke-linecap="round"/>
<path d="M383.3,55.4L382.8,60.0" fill="none" stroke="#e8232b" stroke-width="1.7" stroke-linejoin="round" stroke-linecap="round"/>
<path d="M442.8,20.7L444.9,42.8L420.8,51.5L398.7,59.5" fill="none" stroke="#e8232b" stroke-width="1.7" stroke-linejoin="round" stroke-linecap="round"/>
<path d="M426.4,43.3L420.3,60.0" fill="none" stroke="#e8232b" stroke-width="1.7" stroke-linejoin="round" stroke-linecap="round"/>
<path d="M427.4,54.9L422.3,60.0" fill="none" stroke="#e8232b" stroke-width="1.7" stroke-linejoin="round" stroke-linecap="round"/>
<path d="M329.7,65.0L307.7,88.8L319.5,112.1L345.6,90.5L372.0,73.5" fill="none" stroke="#e8232b" stroke-width="1.7" stroke-linejoin="round" stroke-linecap="round"/>
<path d="M333.3,64.5L331.8,76.5L345.6,90.5L358.0,100.3L356.4,114.6L360.5,130.0" fill="none" stroke="#e8232b" stroke-width="1.7" stroke-linejoin="round" stroke-linecap="round"/>
<path d="M361.0,65.5L354.4,84.7L351.0,95.0" fill="none" stroke="#e8232b" stroke-width="1.7" stroke-linejoin="round" stroke-linecap="round"/>
<path d="M358.0,100.3L361.5,90.0" fill="none" stroke="#e8232b" stroke-width="1.7" stroke-linejoin="round" stroke-linecap="round"/>
<path d="M358.0,100.3L370.8,90.0" fill="none" stroke="#e8232b" stroke-width="1.7" stroke-linejoin="round" stroke-linecap="round"/>
<path d="M353.3,87.8L372.0,84.7" fill="none" stroke="#e8232b" stroke-width="1.7" stroke-linejoin="round" stroke-linecap="round"/>
<path d="M370.0,58.0L365.0,65.4" fill="none" stroke="#e8232b" stroke-width="1.7" stroke-linejoin="round" stroke-linecap="round"/>
<path d="M391.5,60.0L390.6,61.3L381.4,90.0" fill="none" stroke="#e8232b" stroke-width="1.7" stroke-linejoin="round" stroke-linecap="round"/>
<path d="M382.8,60.0L381.9,90.0" fill="none" stroke="#e8232b" stroke-width="1.7" stroke-linejoin="round" stroke-linecap="round"/>
<path d="M398.7,59.5L365.0,77.7" fill="none" stroke="#e8232b" stroke-width="1.7" stroke-linejoin="round" stroke-linecap="round"/>
<path d="M420.3,60.0L409.1,74.6L399.9,90.0" fill="none" stroke="#e8232b" stroke-width="1.7" stroke-linejoin="round" stroke-linecap="round"/>
<path d="M422.3,60.0L409.1,70.5L385.5,90.0" fill="none" stroke="#e8232b" stroke-width="1.7" stroke-linejoin="round" stroke-linecap="round"/>
<path d="M430.6,65.9L365.0,83.8" fill="none" stroke="#e8232b" stroke-width="1.7" stroke-linejoin="round" stroke-linecap="round"/>
<path d="M372.0,115.6L362.6,130.0" fill="none" stroke="#e8232b" stroke-width="1.7" stroke-linejoin="round" stroke-linecap="round"/>
<path d="M381.4,90.0L379.6,85.0L377.6,98.3L375.5,110.6L375.1,120.0L375.6,124.1L380.8,146.7L391.0,120.0L395.0,100.4L399.9,90.0" fill="none" stroke="#e8232b" stroke-width="1.7" stroke-linejoin="round" stroke-linecap="round"/>
<path d="M360.3,134.7L370.5,120.0L377.6,105.5L383.7,92.2L385.5,90.0" fill="none" stroke="#e8232b" stroke-width="1.7" stroke-linejoin="round" stroke-linecap="round"/>
<path d="M570.2,37.7L579.6,63.8L581.7,70.0" fill="none" stroke="#e8232b" stroke-width="1.7" stroke-linejoin="round" stroke-linecap="round"/>
<path d="M599.1,46.9L573.5,70.0" fill="none" stroke="#e8232b" stroke-width="1.7" stroke-linejoin="round" stroke-linecap="round"/>
<path d="M602.2,62.3L599.1,70.0" fill="none" stroke="#e8232b" stroke-width="1.7" stroke-linejoin="round" stroke-linecap="round"/>
<path d="M631.4,37.7L624.2,55.6L621.2,70.0" fill="none" stroke="#e8232b" stroke-width="1.7" stroke-linejoin="round" stroke-linecap="round"/>
<path d="M610.4,64.4L609.4,70.0" fill="none" stroke="#e8232b" stroke-width="1.7" stroke-linejoin="round" stroke-linecap="round"/>
<path d="M664.7,46.9L644.7,70.0" fill="none" stroke="#e8232b" stroke-width="1.7" stroke-linejoin="round" stroke-linecap="round"/>
<path d="M643.2,62.3L639.1,70.0" fill="none" stroke="#e8232b" stroke-width="1.7" stroke-linejoin="round" stroke-linecap="round"/>
<path d="M647.8,64.4L645.3,70.0" fill="none" stroke="#e8232b" stroke-width="1.7" stroke-linejoin="round" stroke-linecap="round"/>
<path d="M573.5,70.0L561.3,91.7L558.7,105.0" fill="none" stroke="#e8232b" stroke-width="1.7" stroke-linejoin="round" stroke-linecap="round"/>
<path d="M581.7,70.0L584.9,82.4L581.8,105.0" fill="none" stroke="#e8232b" stroke-width="1.7" stroke-linejoin="round" stroke-linecap="round"/>
<path d="M580.8,73.2L573.6,105.0" fill="none" stroke="#e8232b" stroke-width="1.7" stroke-linejoin="round" stroke-linecap="round"/>
<path d="M599.1,70.0L598.2,71.2L586.9,91.7L583.8,105.0" fill="none" stroke="#e8232b" stroke-width="1.7" stroke-linejoin="round" stroke-linecap="round"/>
<path d="M601.3,65.0L594.1,105.0" fill="none" stroke="#e8232b" stroke-width="1.7" stroke-linejoin="round" stroke-linecap="round"/>
<path d="M609.4,70.0L607.4,105.0" fill="none" stroke="#e8232b" stroke-width="1.7" stroke-linejoin="round" stroke-linecap="round"/>
<path d="M621.2,70.0L616.7,105.0" fill="none" stroke="#e8232b" stroke-width="1.7" stroke-linejoin="round" stroke-linecap="round"/>
<path d="M594.1,105.0L600.3,92.7L622.0,82.4" fill="none" stroke="#e8232b" stroke-width="1.7" stroke-linejoin="round" stroke-linecap="round"/>
<path d="M644.7,70.0L635.5,85.6L624.2,100.0" fill="none" stroke="#e8232b" stroke-width="1.7" stroke-linejoin="round" stroke-linecap="round"/>
<path d="M639.1,70.0L637.6,73.3L626.3,100.0" fill="none" stroke="#e8232b" stroke-width="1.7" stroke-linejoin="round" stroke-linecap="round"/>
<path d="M645.3,70.0L642.7,72.3L634.5,100.0" fill="none" stroke="#e8232b" stroke-width="1.7" stroke-linejoin="round" stroke-linecap="round"/>
<path d="M622.0,82.4L644.7,70.3L656.0,60.0" fill="none" stroke="#e8232b" stroke-width="1.7" stroke-linejoin="round" stroke-linecap="round"/>
<path d="M558.7,105.0L556.3,115.4L571.2,137.9" fill="none" stroke="#e8232b" stroke-width="1.7" stroke-linejoin="round" stroke-linecap="round"/>
<path d="M573.6,105.0L570.6,116.4L571.2,137.9" fill="none" stroke="#e8232b" stroke-width="1.7" stroke-linejoin="round" stroke-linecap="round"/>
<path d="M571.2,137.9L592.2,115.4L594.1,105.0" fill="none" stroke="#e8232b" stroke-width="1.7" stroke-linejoin="round" stroke-linecap="round"/>
<path d="M581.8,105.0L583.0,113.3L571.2,137.9" fill="none" stroke="#e8232b" stroke-width="1.7" stroke-linejoin="round" stroke-linecap="round"/>
<path d="M583.8,105.0L580.9,106.2L592.2,115.4L602.4,128.7L606.5,120.5L617.0,106.2" fill="none" stroke="#e8232b" stroke-width="1.7" stroke-linejoin="round" stroke-linecap="round"/>
<path d="M592.2,115.4L594.2,128.7L598.3,140.0" fill="none" stroke="#e8232b" stroke-width="1.7" stroke-linejoin="round" stroke-linecap="round"/>
<path d="M607.4,105.0L605.5,115.4L606.5,130.8L610.6,140.0" fill="none" stroke="#e8232b" stroke-width="1.7" stroke-linejoin="round" stroke-linecap="round"/>
<path d="M616.7,105.0L616.3,107.3L605.0,124.7" fill="none" stroke="#e8232b" stroke-width="1.7" stroke-linejoin="round" stroke-linecap="round"/>
<path d="M624.2,100.0L618.3,112.4L612.2,135.0" fill="none" stroke="#e8232b" stroke-width="1.7" stroke-linejoin="round" stroke-linecap="round"/>
<path d="M634.5,100.0L630.6,115.5L627.1,135.0" fill="none" stroke="#e8232b" stroke-width="1.7" stroke-linejoin="round" stroke-linecap="round"/>
<path d="M626.3,100.0L622.0,112.0L618.0,125.0L615.0,135.0" fill="none" stroke="#e8232b" stroke-width="1.7" stroke-linejoin="round" stroke-linecap="round"/>
<path d="M571.2,137.9L570.3,138.9" fill="none" stroke="#e8232b" stroke-width="1.7" stroke-linejoin="round" stroke-linecap="round"/>
<path d="M598.3,140.0L603.4,153.5L609.7,138.9L612.2,135.0" fill="none" stroke="#e8232b" stroke-width="1.7" stroke-linejoin="round" stroke-linecap="round"/>
<path d="M610.6,140.0L615.4,156.0L626.2,137.6L627.1,135.0" fill="none" stroke="#e8232b" stroke-width="1.7" stroke-linejoin="round" stroke-linecap="round"/>
</svg></body></html>
